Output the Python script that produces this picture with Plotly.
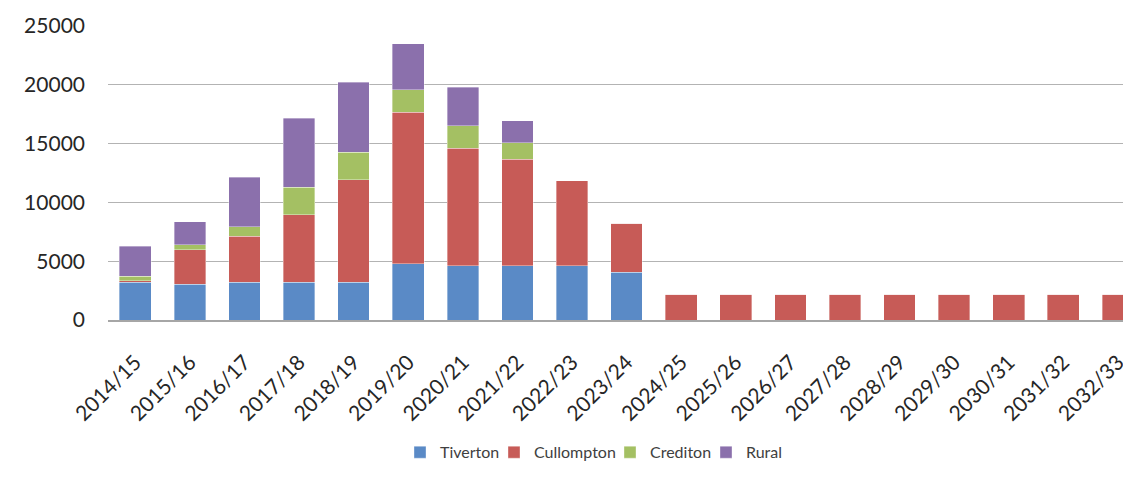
import plotly.graph_objects as go

years = ["2014/15", "2015/16", "2016/17", "2017/18", "2018/19", "2019/20", "2020/21",
         "2021/22", "2022/23", "2023/24", "2024/25", "2025/26", "2026/27", "2027/28",
         "2028/29", "2029/30", "2030/31", "2031/32", "2032/33"]
tiverton = [3210, 3020, 3210, 3210, 3210, 4780, 4630, 4630, 4630, 4040,
            0, 0, 0, 0, 0, 0, 0, 0, 0]
cullompton = [120, 2970, 3910, 5760, 8710, 12880, 9970, 9040, 7200, 4190,
              2200, 2200, 2200, 2200, 2200, 2200, 2200, 2200, 2200]
crediton = [390, 400, 800, 2320, 2340, 1930, 1930, 1420, 0, 0,
            0, 0, 0, 0, 0, 0, 0, 0, 0]
rural = [2550, 1960, 4220, 5860, 5950, 3890, 3260, 1870, 0, 0,
         0, 0, 0, 0, 0, 0, 0, 0, 0]
y_ticks = [0, 5000, 10000, 15000, 20000, 25000]

series = [
    ("Tiverton", tiverton, "#5A8AC6"),
    ("Cullompton", cullompton, "#C75B57"),
    ("Crediton", crediton, "#A4C063"),
    ("Rural", rural, "#8B70AC"),
]

PLOT_L, PLOT_W = 100, 1023
legend_box_px = [412, 506, 622, 718]   # legend symbol centres (div px)

fig = go.Figure()
legend_names = ["legend", "legend2", "legend3", "legend4"]
for (name, vals, col), lg in zip(series, legend_names):
    fig.add_trace(go.Bar(
        x=years, y=vals, name=name, legend=lg,
        marker=dict(color=col, line=dict(width=0.8, color="rgba(255,255,255,0.45)")),
    ))

FONT = "Lato, Carlito, 'Open Sans', sans-serif"
layout_legends = {}
for lg, bx in zip(legend_names, legend_box_px):
    layout_legends[lg] = dict(
        orientation="h", x=(bx - 20 - PLOT_L) / PLOT_W, xanchor="left",
        y=-0.45, yanchor="middle",
        font=dict(size=16, color="#404040", family=FONT),
        bgcolor="rgba(0,0,0,0)", borderwidth=0,
    )

fig.update_layout(
    barmode="stack",
    bargap=0.42,
    width=1123, height=473,
    margin=dict(l=PLOT_L, r=0, t=18, b=161),
    paper_bgcolor="white", plot_bgcolor="white",
    font=dict(family=FONT, color="#262626"),
    showlegend=True,
    **layout_legends,
)
fig.update_xaxes(
    type="category",
    range=[-0.5, 18.24],
    tickangle=-45,
    tickfont=dict(size=21, color="#262626"),
    showgrid=False,
    showline=True, linecolor="#A6A6A6", linewidth=1.5,
    ticks="outside", ticklen=20, tickcolor="rgba(0,0,0,0)",
)
fig.update_yaxes(
    range=[0, 25000],
    tickvals=y_ticks,
    ticktext=[str(v) for v in y_ticks],
    tickfont=dict(size=21, color="#262626"),
    showgrid=True, gridcolor="#B3B3B3", gridwidth=1.2,
    zeroline=False,
    showline=False,
    ticks="",
    ticklabelstandoff=22,
)
fig.write_html("out.html")
